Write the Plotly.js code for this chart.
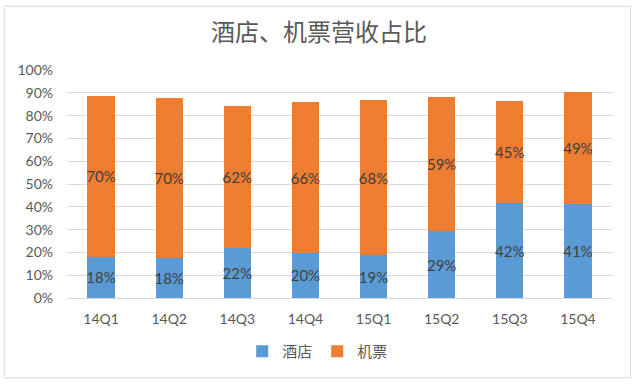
<!DOCTYPE html>
<html><head><meta charset="utf-8">
<script src="https://cdn.plot.ly/plotly-3.0.1.min.js"></script>
<style>html,body{margin:0;padding:0;background:#fff;}#chart{width:638px;height:389px;}</style>
</head><body><div id="chart"></div>
<script>
var categories = ["14Q1","14Q2","14Q3","14Q4","15Q1","15Q2","15Q3","15Q4"];
var hotel = [18.2,17.6,22.1,19.8,18.7,29.2,41.6,41.3];
var flight = [70.3,70.0,62.3,66.0,68.3,58.8,44.8,49.1];
var yTicks = [0,10,20,30,40,50,60,70,80,90,100];

function pct(a){return a.map(function(v){return Math.round(v)+"%";});}
var labelFont = {family:"Lato, 'Liberation Sans', sans-serif", size:15, color:"#404040"};

var traces = [
  {type:"bar", name:"酒店", x:categories, y:hotel, marker:{color:"#5B9BD5"},
   text:pct(hotel), textposition:"inside", insidetextanchor:"middle", constraintext:"none",
   textangle:0, textfont:labelFont, hoverinfo:"none"},
  {type:"bar", name:"机票", x:categories, y:flight, marker:{color:"#ED7D31"},
   text:pct(flight), textposition:"inside", insidetextanchor:"middle", constraintext:"none",
   textangle:0, textfont:labelFont, hoverinfo:"none"}
];

var layout = {
  width:638, height:389,
  barmode:"stack", bargap:0.6,
  margin:{l:67, r:26, t:70, b:91},
  paper_bgcolor:"#fff", plot_bgcolor:"#fff",
  uniformtext:{mode:"show", minsize:15},
  title:{text:"酒店、机票营收占比", x:0.5, xanchor:"center", y:0.915, yanchor:"middle",
    font:{family:"'Noto Sans CJK SC', sans-serif", size:24, color:"#595959"}},
  xaxis:{type:"category", showgrid:false, zeroline:false, showline:false, ticks:"",
    ticklabelstandoff:11,
    tickfont:{family:"Lato, 'Liberation Sans', sans-serif", size:14, color:"#595959"}},
  yaxis:{range:[0,100], tickvals:yTicks, ticktext:yTicks.map(function(v){return v+"%";}),
    showgrid:true, gridcolor:"#D9D9D9", gridwidth:1, zeroline:true, zerolinecolor:"#D9D9D9",
    showline:false, ticks:"", ticklabelstandoff:13,
    tickfont:{family:"Lato, 'Liberation Sans', sans-serif", size:14, color:"#595959"}},
  showlegend:true,
  legend:{orientation:"h", x:0.46, xanchor:"center", y:-0.235, yanchor:"middle",
    font:{family:"'Noto Sans CJK SC', sans-serif", size:15, color:"#595959"},
    itemwidth:30, traceorder:"normal"},
  shapes:[{type:"rect", xref:"paper", yref:"paper", x0:-0.115, x1:1.034, y0:-0.35, y1:1.28,
    line:{color:"#D9D9D9", width:1}, fillcolor:"rgba(0,0,0,0)", layer:"below"}]
};
Plotly.newPlot("chart", traces, layout, {staticPlot:true});
</script>
</body></html>
